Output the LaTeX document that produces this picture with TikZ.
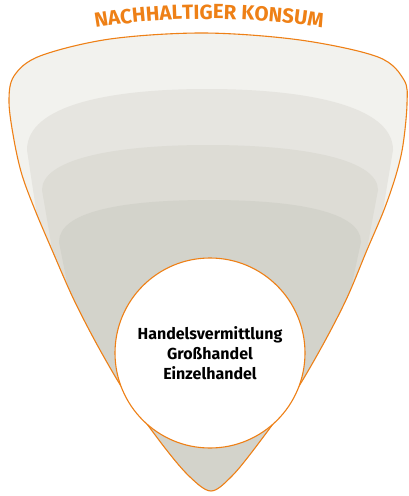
\documentclass[tikz,border=0pt]{standalone}
\usepackage{fontspec}
\setmainfont{Fira Sans}
\usetikzlibrary{decorations.text}
\definecolor{konsumorange}{RGB}{238,128,22}
\definecolor{layerA}{RGB}{242,242,238}
\definecolor{layerB}{RGB}{230,229,224}
\definecolor{layerC}{RGB}{221,220,213}
\definecolor{layerD}{RGB}{211,211,203}
\tikzset{
  rim/.style={draw=konsumorange, line width=1.1pt},
  core/.style={circle, rim, fill=white, minimum size=190pt, inner sep=0pt,
    align=center, font=\bfseries\fontsize{16}{20}\selectfont}
}
\def\funnelpath{plot[smooth cycle, tension=0.55] coordinates {
  (204,33) (110,39) (40,56) (14,76) (9,102) (14,140) (22,175) (35,210)
  (52,250) (74,300) (100,350) (128,397) (165,448) (190,477) (211,491)
  (231,477) (255,448) (292,397) (320,350) (346,300) (367,250) (384,210)
  (396,175) (403,145) (407,104) (404,80) (378,57) (300,40)}}
\begin{document}
\begin{tikzpicture}[x=1pt, y=-1pt]
  \useasboundingbox (0,0) rectangle (408,496);
  \fill[layerA] \funnelpath;
  \begin{scope}
    \clip \funnelpath;
    \fill[layerB] (27,150) .. controls (27,105) and (110,89) .. (207,89)
      .. controls (304,89) and (393,105) .. (393,150) -- (335,500) -- (80,500) -- cycle;
    \fill[layerC] (42,190) .. controls (42,160) and (110,145) .. (208,145)
      .. controls (306,145) and (378,160) .. (378,190) -- (320,500) -- (95,500) -- cycle;
    \fill[layerD] (59,242) .. controls (59,212) and (120,200) .. (209,200)
      .. controls (298,200) and (361,212) .. (361,242) -- (305,500) -- (110,500) -- cycle;
  \end{scope}
  \draw[rim] \funnelpath;
  \node[core] (trade) at (210,353) {Handelsvermittlung\\Großhandel\\Einzelhandel};
  \path[decorate, decoration={text along path, text align=center,
      text={|\bfseries\fontsize{20.5}{20.5}\selectfont\color{konsumorange}|NACHHALTIGER KONSUM}}]
    (78,31) .. controls (155,15) and (263,15) .. (340,31);
\end{tikzpicture}
\end{document}
